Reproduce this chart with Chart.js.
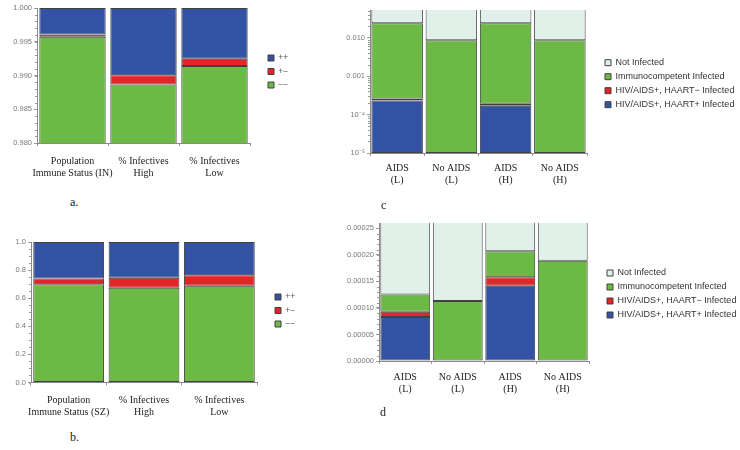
<!DOCTYPE html>
<html>
<head>
<meta charset="utf-8">
<script src="https://cdn.jsdelivr.net/npm/chart.js@4.4.1/dist/chart.umd.min.js"></script>
<style>
  body { margin: 0; background: #fff; width: 740px; height: 450px; position: relative; overflow: hidden; }
  canvas { position: absolute; }
  .tag { position: absolute; font-family: 'Liberation Serif', serif; font-size: 12px; color: #222; line-height: 14px; }
</style>
</head>
<body>
<canvas id="chartA" width="300" height="180" style="left:0;top:0"></canvas>
<canvas id="chartB" width="310" height="200" style="left:0;top:230px"></canvas>
<canvas id="chartC" width="410" height="200" style="left:330px;top:0"></canvas>
<canvas id="chartD" width="410" height="200" style="left:330px;top:210px"></canvas>
<div class="tag" style="left:70px;top:195px">a.</div>
<div class="tag" style="left:70px;top:430px">b.</div>
<div class="tag" style="left:381px;top:198px">c</div>
<div class="tag" style="left:380px;top:405px">d</div>
<script>
// panels a and b: immune status mix
const categoriesIN = [['Population', 'Immune Status (IN)'], ['% Infectives', 'High'], ['% Infectives', 'Low']];
const categoriesSZ = [['Population', 'Immune Status (SZ)'], ['% Infectives', 'High'], ['% Infectives', 'Low']];
const statusLabels = ['\u2212\u2212', '+\u2212', '++'];

const aMinusMinus = [0.99573, 0.98866, 0.99140];
const aPlusMinus  = [0.00035, 0.00137, 0.00107];
const aPlusPlus   = [0.00392, 0.00997, 0.00753];

const bMinusMinus = [0.699, 0.675, 0.689];
const bPlusMinus  = [0.042, 0.071, 0.074];
const bPlusPlus   = [0.259, 0.254, 0.237];

const aTicks = [0.980, 0.985, 0.990, 0.995, 1.000];
const bTicks = [0.0, 0.2, 0.4, 0.6, 0.8, 1.0];

// panels c and d: infection status by AIDS scenario
const aidsCategories = [['AIDS', '(L)'], ['No AIDS', '(L)'], ['AIDS', '(H)'], ['No AIDS', '(H)']];
const infectionLabels = ['HIV/AIDS+, HAART+ Infected', 'HIV/AIDS+, HAART\u2212 Infected', 'Immunocompetent Infected', 'Not Infected'];

const cHaartPlus   = [0.000234, null, 0.000170, null];
const cHaartMinus  = [0.000030, null, 0.000022, null];
const cImmuno      = [0.023536, 0.0087, 0.023608, 0.0087];
const cNotInfected = [0.9762, 0.9913, 0.9762, 0.9913];
const cTicks = [0.00001, 0.0001, 0.001, 0.01];

const dHaartPlus   = [0.0000830, null, 0.0001420, null];
const dHaartMinus  = [0.0000100, null, 0.0000160, null];
const dImmuno      = [0.0000325, 0.0001130, 0.0000490, 0.0001890];
const dNotInfected = [0.9998745, 0.9998870, 0.9997930, 0.9998110];

const colors = { plusPlus: '#3352a4', plusMinus: '#e42528', minusMinus: '#6cb946', notInfected: '#e2f0ea' };

Chart.defaults.font.family = "'Liberation Sans', Arial, sans-serif";

// puts the legend at a fixed spot and gives it a fixed width
const placeLegend = {
  id: 'placeLegend',
  beforeLayout(chart, args, opts) {
    const lg = chart.legend;
    if (!lg || lg._fixedWidth) return;
    const fit = lg.fit;
    lg.fit = function () { fit.call(this); this.width = opts.width; };
    lg._fixedWidth = true;
  },
  afterLayout(chart, args, opts) {
    const lg = chart.legend;
    const lab = chart.options.plugins.legend.labels;
    lg.left = opts.x - lab.padding;
    lg.right = lg.left + lg.width;
    lg.top = opts.y - lab.font.size / 2 - lab.padding;
    lg.bottom = lg.top + lg.height;
  }
};

// small unlabeled ticks on the y axis
const minorTicks = {
  id: 'minorTicks',
  afterDraw(chart, args, opts) {
    const y = chart.scales.y;
    const ctx = chart.ctx;
    let vals = [];
    if (opts.log) {
      for (let e = -5; e <= -2; e++) {
        for (let k = 2; k <= 9; k++) vals.push(k * Math.pow(10, e));
      }
    } else {
      for (let v = y.min; v <= y.max + opts.step / 2; v += opts.step) vals.push(v);
    }
    ctx.save();
    ctx.strokeStyle = '#9a9a9a';
    ctx.lineWidth = 1;
    vals.forEach(v => {
      if (v < y.min || v > y.max) return;
      const py = Math.round(y.getPixelForValue(v)) + 0.5;
      ctx.beginPath();
      ctx.moveTo(y.right - 2, py);
      ctx.lineTo(y.right, py);
      ctx.stroke();
    });
    ctx.restore();
  }
};

function drawPanel(id, p) {
  return new Chart(document.getElementById(id), {
    type: 'bar',
    data: {
      labels: p.labels,
      datasets: p.series.map(s => ({
        label: s.label,
        data: s.data,
        backgroundColor: s.color,
        borderColor: '#404040',
        borderWidth: 1,
        borderSkipped: false,
        categoryPercentage: 1,
        barPercentage: p.barPct
      }))
    },
    options: {
      responsive: false,
      animation: false,
      devicePixelRatio: 1,
      layout: { padding: { top: p.padTop, left: 0, right: 0, bottom: 0 } },
      plugins: {
        tooltip: { enabled: false },
        legend: {
          position: 'right',
          align: 'start',
          reverse: true,
          labels: {
            boxWidth: p.box,
            boxHeight: p.box,
            padding: p.legendPad,
            color: p.legendColor,
            font: { size: p.legendSize }
          }
        },
        placeLegend: { width: p.legendWidth, x: p.legendX, y: p.legendY },
        minorTicks: p.minor
      },
      scales: {
        x: {
          stacked: true,
          afterFit: s => { s.height = p.xHeight; },
          grid: { drawOnChartArea: false, tickLength: 3, color: '#9a9a9a' },
          border: { color: '#8a8a8a' },
          ticks: {
            padding: p.xPad,
            color: '#222',
            maxRotation: 0,
            autoSkip: false,
            font: { family: "'Liberation Serif', 'Times New Roman', serif", size: 10, lineHeight: 1.2 }
          }
        },
        y: Object.assign({
          stacked: true,
          afterFit: s => { s.width = p.yWidth; },
          grid: { drawOnChartArea: false, tickLength: 3, color: '#9a9a9a' },
          border: { color: '#8a8a8a' }
        }, p.y)
      }
    },
    plugins: [placeLegend, minorTicks]
  });
}

const smallTicks = { color: '#777', padding: 2, font: { size: 7.5 } };

function fixedTicks(values) {
  return scale => { scale.ticks = values.map(v => ({ value: v })); };
}

drawPanel('chartA', {
  labels: categoriesIN,
  series: [
    { label: statusLabels[0], data: aMinusMinus, color: colors.minusMinus },
    { label: statusLabels[1], data: aPlusMinus, color: colors.plusMinus },
    { label: statusLabels[2], data: aPlusPlus, color: colors.plusPlus }
  ],
  barPct: 0.935, padTop: 8, yWidth: 37, xHeight: 37, xPad: 9,
  box: 6, legendPad: 5, legendSize: 8.5, legendColor: '#555',
  legendWidth: 50, legendX: 268, legendY: 58,
  minor: { step: 0.001 },
  y: {
    min: 0.98, max: 1.0,
    afterBuildTicks: fixedTicks(aTicks),
    ticks: Object.assign({}, smallTicks, { callback: v => v.toFixed(3) })
  }
});

drawPanel('chartB', {
  labels: categoriesSZ,
  series: [
    { label: statusLabels[0], data: bMinusMinus, color: colors.minusMinus },
    { label: statusLabels[1], data: bPlusMinus, color: colors.plusMinus },
    { label: statusLabels[2], data: bPlusPlus, color: colors.plusPlus }
  ],
  barPct: 0.94, padTop: 12, yWidth: 31, xHeight: 47.5, xPad: 8.5,
  box: 6, legendPad: 5, legendSize: 8.5, legendColor: '#555',
  legendWidth: 53, legendX: 275, legendY: 67,
  minor: { step: 0.05 },
  y: {
    min: 0, max: 1.0,
    afterBuildTicks: fixedTicks(bTicks),
    ticks: Object.assign({}, smallTicks, { callback: v => v.toFixed(1) })
  }
});

const logLabel = { 0.00001: '10\u207B\u2075', 0.0001: '10\u207B\u2074', 0.001: '0.001', 0.01: '0.010' };

drawPanel('chartC', {
  labels: aidsCategories,
  series: [
    { label: infectionLabels[0], data: cHaartPlus, color: colors.plusPlus },
    { label: infectionLabels[1], data: cHaartMinus, color: colors.plusMinus },
    { label: infectionLabels[2], data: cImmuno, color: colors.minusMinus },
    { label: infectionLabels[3], data: cNotInfected, color: colors.notInfected }
  ],
  barPct: 0.95, padTop: 10, yWidth: 40, xHeight: 47, xPad: 6,
  box: 6, legendPad: 5, legendSize: 9, legendColor: '#333',
  legendWidth: 153, legendX: 275, legendY: 62.7,
  minor: { log: true },
  y: {
    type: 'logarithmic',
    min: 0.00001, max: 0.053,
    afterBuildTicks: fixedTicks(cTicks),
    ticks: Object.assign({}, smallTicks, { callback: v => logLabel[v] })
  }
});

drawPanel('chartD', {
  labels: aidsCategories,
  series: [
    { label: infectionLabels[0], data: dHaartPlus, color: colors.plusPlus },
    { label: infectionLabels[1], data: dHaartMinus, color: colors.plusMinus },
    { label: infectionLabels[2], data: dImmuno, color: colors.minusMinus },
    { label: infectionLabels[3], data: dNotInfected, color: colors.notInfected }
  ],
  barPct: 0.95, padTop: 13, yWidth: 49, xHeight: 49, xPad: 7,
  box: 6, legendPad: 5, legendSize: 9, legendColor: '#333',
  legendWidth: 151, legendX: 277, legendY: 63,
  minor: { step: 0.00001 },
  y: {
    min: 0, max: 0.00026,
    ticks: Object.assign({}, smallTicks, { stepSize: 0.00005, includeBounds: false, callback: v => v.toFixed(5) })
  }
});
</script>
</body>
</html>
